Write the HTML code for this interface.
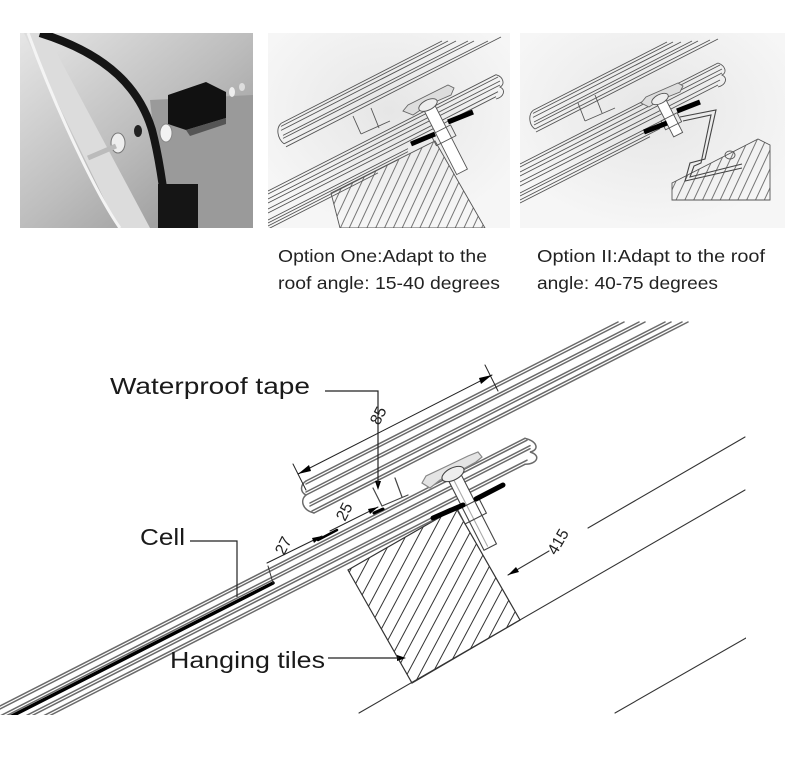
<!DOCTYPE html>
<html><head><meta charset="utf-8">
<style>
html,body{margin:0;padding:0;background:#fff;}
svg{display:block;}
</style></head>
<body>
<svg width="800" height="758" viewBox="0 0 800 758" xmlns="http://www.w3.org/2000/svg" font-family="Liberation Sans, sans-serif">
<defs>
  <pattern id="hatch" patternUnits="userSpaceOnUse" width="11" height="11" patternTransform="rotate(28)">
    <line x1="5" y1="0" x2="5" y2="11" stroke="#333" stroke-width="1"/>
  </pattern>
  <pattern id="hatch2" patternUnits="userSpaceOnUse" width="8" height="8" patternTransform="rotate(25)">
    <line x1="4" y1="0" x2="4" y2="8" stroke="#555" stroke-width="0.8"/>
  </pattern>
  <linearGradient id="p1bg" x1="0" y1="0" x2="1" y2="1">
    <stop offset="0" stop-color="#e6e6e6"/>
    <stop offset="0.5" stop-color="#bdbdbd"/>
    <stop offset="1" stop-color="#8d8d8d"/>
  </linearGradient>
  <radialGradient id="marble" cx="0.5" cy="0.4" r="0.6">
    <stop offset="0" stop-color="#e6e6e6"/>
    <stop offset="1" stop-color="#f6f6f6"/>
  </radialGradient>
  <clipPath id="mainclip"><rect x="0" y="321" width="746" height="394"/></clipPath>
  <clipPath id="p2clip"><rect x="0" y="0" width="242" height="195"/></clipPath>
  <clipPath id="p3clip"><rect x="0" y="0" width="265" height="195"/></clipPath>
  <clipPath id="p1clip"><rect x="20" y="33" width="233" height="195"/></clipPath>
</defs>

<!-- Panel 1 (photo) -->
<g clip-path="url(#p1clip)">
  <rect x="20" y="33" width="233" height="195" fill="url(#p1bg)"/>
  <polygon points="150,100 253,95 253,228 165,228" fill="#9a9a9a"/>
  <polygon points="24,33 46,33 150,228 118,228" fill="#dcdcdc"/>
  <path d="M28,33 C60,120 100,200 120,228" stroke="#f4f4f4" stroke-width="3" fill="none"/>
  <path d="M40,33 C110,55 140,90 152,130 C160,160 165,200 168,228" stroke="#151515" stroke-width="8" fill="none"/>
  <polygon points="168,95 206,82 226,92 226,118 186,130 168,124" fill="#111"/>
  <polygon points="186,130 226,118 226,124 190,136" fill="#555"/>
  <rect x="158" y="184" width="40" height="44" fill="#151515"/>
  <ellipse cx="118" cy="143" rx="7" ry="10" fill="#eee" stroke="#777"/>
  <ellipse cx="138" cy="131" rx="4" ry="6" fill="#222"/>
  <ellipse cx="166" cy="133" rx="6" ry="9" fill="#f2f2f2" stroke="#888"/>
  <line x1="88" y1="158" x2="116" y2="146" stroke="#bbb" stroke-width="5"/>
  <ellipse cx="232" cy="92" rx="3" ry="5" fill="#eee"/>
  <ellipse cx="242" cy="87" rx="3" ry="4" fill="#ddd"/>
</g>

<!-- Panel 2 -->
<g transform="translate(268,33)">
  <rect x="0" y="0" width="242" height="195" fill="url(#marble)"/>
  <g clip-path="url(#p2clip)" stroke="#555" stroke-width="0.9" fill="none">
    <line x1="13" y1="90.4" x2="174" y2="8"/>
    <line x1="13" y1="93.4" x2="180" y2="8"/>
    <line x1="13" y1="97.4" x2="188" y2="8"/>
    <line x1="15" y1="102.4" x2="200" y2="8"/>
    <line x1="15" y1="105.4" x2="206" y2="8"/>
    <line x1="16" y1="110.8" x2="220" y2="8"/>
    <line x1="18" y1="113.8" x2="233" y2="4"/>
    <path d="M13,90.4 C8,95 9,105 16,110.8"/>
    <line x1="0" y1="158" x2="228" y2="41.7"/>
    <line x1="0" y1="161" x2="230" y2="44"/>
    <line x1="0" y1="166" x2="232" y2="48"/>
    <line x1="0" y1="170" x2="232" y2="52"/>
    <line x1="0" y1="176" x2="230" y2="58.7"/>
    <line x1="0" y1="180" x2="228" y2="63.7"/>
    <path d="M228,41.7 C236,44 237,52 232,54 C238,57 236,64 228,66"/>
    <line x1="0" y1="187" x2="140" y2="115.6"/>
    <line x1="0" y1="190" x2="140" y2="118.6"/>
    <line x1="0" y1="193" x2="130" y2="126.7"/>
    <line x1="0" y1="196" x2="110" y2="139.9"/>
    <polygon points="63,160 167,108 217,195 72,195" fill="url(#hatch2)" stroke="#555"/>
    <line x1="85" y1="83" x2="93" y2="101"/>
    <line x1="103" y1="75" x2="111" y2="95"/>
    <line x1="93" y1="101" x2="122" y2="88"/>
    <polygon points="135,78 140,72 180,52 186,55 183,62 160,72 145,82" fill="#ddd" stroke="#666"/>
    <g transform="translate(160,72) rotate(-27)">
      <rect x="-6" y="0" width="12" height="75" fill="#fff" stroke="#555"/>
      <ellipse cx="0" cy="0" rx="10" ry="5" fill="#eee" stroke="#555"/>
      <rect x="-11" y="28" width="22" height="12" fill="none" stroke="#555"/>
    </g>
  </g>
  <line x1="143" y1="111" x2="167" y2="101" stroke="#000" stroke-width="5"/>
  <line x1="180" y1="89" x2="205" y2="79" stroke="#000" stroke-width="5"/>
</g>

<!-- Panel 3 -->
<g transform="translate(520,33)">
  <rect x="0" y="0" width="265" height="195" fill="url(#marble)"/>
  <g clip-path="url(#p3clip)" stroke="#555" stroke-width="0.9" fill="none">
    <line x1="13" y1="77.4" x2="147" y2="9"/>
    <line x1="13" y1="80.4" x2="153" y2="9"/>
    <line x1="13" y1="84.4" x2="161" y2="9"/>
    <line x1="14" y1="89" x2="172" y2="8"/>
    <line x1="14" y1="92" x2="178" y2="8"/>
    <line x1="15" y1="96" x2="190" y2="7"/>
    <line x1="16" y1="99" x2="198" y2="6"/>
    <path d="M13,77.4 C8,82 9,92 15,96"/>
    <line x1="0" y1="131" x2="198" y2="30"/>
    <line x1="0" y1="134" x2="200" y2="32"/>
    <line x1="0" y1="139" x2="202" y2="36"/>
    <line x1="0" y1="143" x2="202" y2="40"/>
    <line x1="0" y1="149" x2="200" y2="47"/>
    <line x1="0" y1="153" x2="198" y2="52"/>
    <path d="M198,30 C206,33 207,40 202,42 C208,45 206,52 198,54"/>
    <line x1="0" y1="160" x2="150" y2="83.5"/>
    <line x1="0" y1="163" x2="150" y2="86.5"/>
    <line x1="0" y1="167" x2="140" y2="95.6"/>
    <line x1="0" y1="170" x2="130" y2="103.7"/>
    <polygon points="152,150 238,106 250,112 250,167 152,167" fill="url(#hatch2)" stroke="#555"/>
    <line x1="58" y1="70" x2="65" y2="88"/>
    <line x1="75" y1="62" x2="82" y2="80"/>
    <line x1="65" y1="88" x2="95" y2="75"/>
    <polygon points="121,70 126,64 158,50 163,53 160,59 140,67 129,74" fill="#ddd" stroke="#666"/>
    <g transform="translate(140,66) rotate(-27)">
      <rect x="-5" y="0" width="10" height="40" fill="#fff" stroke="#555"/>
      <ellipse cx="0" cy="0" rx="9" ry="4.5" fill="#eee" stroke="#555"/>
      <rect x="-9" y="20" width="18" height="10" fill="none" stroke="#555"/>
    </g>
    <polyline points="160,84 196,77 185,126 170,130 165,148 222,135" stroke="#444" stroke-width="1.1"/>
    <polyline points="163,88 191,82 181,130 174,133 170,144 222,131" stroke="#444" stroke-width="1.1"/>
    <ellipse cx="210" cy="122" rx="5" ry="4" stroke="#555"/>
  </g>
  <line x1="124" y1="99" x2="147" y2="90" stroke="#000" stroke-width="5"/>
  <line x1="157" y1="78" x2="180" y2="69" stroke="#000" stroke-width="5"/>
</g>

<!-- Captions -->
<g font-size="17.5" fill="#222">
  <text x="278" y="262" textLength="209" lengthAdjust="spacingAndGlyphs">Option One:Adapt to the</text>
  <text x="278" y="289" textLength="222" lengthAdjust="spacingAndGlyphs">roof angle: 15-40 degrees</text>
  <text x="537" y="262" textLength="228" lengthAdjust="spacingAndGlyphs">Option II:Adapt to the roof</text>
  <text x="537" y="289" textLength="181" lengthAdjust="spacingAndGlyphs">angle: 40-75 degrees</text>
</g>

<!-- Main diagram -->
<g clip-path="url(#mainclip)" fill="none" stroke-linecap="round">
  <polygon points="348,570 456,508 520,620 412,683" fill="url(#hatch)" stroke="#333" stroke-width="1.2"/>
  <g stroke="#6a6a6a" stroke-width="1.5">
    <line x1="0" y1="706" x2="525" y2="438.3"/>
    <line x1="0" y1="709" x2="527" y2="440.2"/>
    <line x1="0" y1="716" x2="530" y2="445.7"/>
    <line x1="0" y1="719" x2="530" y2="448.7"/>
    <line x1="0" y1="729" x2="527" y2="460.2"/>
    <line x1="0" y1="732" x2="525" y2="464.3"/>
    <path d="M525,438.3 C537,441 540,450 530,452 C541,455 538,464 525,464.3"/>
    <line x1="0" y1="738" x2="450" y2="508.5"/>
    <line x1="0" y1="741" x2="440" y2="516.6"/>
    <line x1="306" y1="481" x2="618" y2="322"/>
    <line x1="306" y1="484" x2="624" y2="322"/>
    <line x1="306" y1="492" x2="639" y2="322"/>
    <line x1="306" y1="495" x2="645" y2="322"/>
    <line x1="310" y1="503" x2="665" y2="322"/>
    <line x1="310" y1="506" x2="671" y2="322"/>
    <line x1="312" y1="511" x2="682" y2="322"/>
    <line x1="314" y1="513" x2="688" y2="322"/>
    <path d="M306,481 C300,485 300,492 306,495 C300,500 302,510 314,513"/>
  </g>
  <g stroke="#333" stroke-width="1.1">
    <line x1="359" y1="713" x2="745" y2="490"/>
    <line x1="508" y1="575" x2="549" y2="551"/>
    <line x1="588" y1="528" x2="745" y2="437"/>
    <line x1="615" y1="713" x2="746" y2="638"/>
  </g>
  <line x1="5" y1="719.5" x2="273" y2="583" stroke="#000" stroke-width="3.5"/>
  <line x1="273" y1="583" x2="268" y2="566" stroke="#333" stroke-width="1"/>
  <g stroke="#444" stroke-width="1.2">
    <line x1="373" y1="488" x2="382" y2="506"/>
    <line x1="395" y1="478" x2="402" y2="497"/>
    <line x1="382" y1="506" x2="408" y2="495"/>
  </g>
  <line x1="374" y1="513" x2="383" y2="509" stroke="#000" stroke-width="3"/>
  <polygon points="422,483 426,476 445,467 468,456 478,452 482,457 476,462 465,468 440,480 430,488" fill="#e4e4e4" stroke="#888" stroke-width="1.2"/>
  <g transform="translate(453,474) rotate(-27)" stroke="#444" stroke-width="1.1">
    <rect x="-7" y="0" width="14" height="82" fill="#fff"/>
    <line x1="-2" y1="4" x2="-2" y2="80" stroke="#aaa"/>
    <ellipse cx="0" cy="0" rx="12" ry="6" fill="#eee"/>
    <rect x="-12" y="34" width="24" height="16" fill="none"/>
  </g>
  <line x1="433" y1="518" x2="463" y2="505" stroke="#000" stroke-width="5"/>
  <line x1="476" y1="499" x2="503" y2="485" stroke="#000" stroke-width="5"/>
  <g stroke="#222" stroke-width="1">
    <line x1="293" y1="464" x2="306" y2="490"/>
    <line x1="485" y1="365" x2="498" y2="391"/>
    <line x1="298" y1="474" x2="492" y2="375"/>
    <line x1="330" y1="531" x2="378" y2="507"/>
    <line x1="267" y1="563" x2="322" y2="536"/>
  </g>
  <g fill="#000">
    <polygon points="298,474 309,465 311,471"/>
    <polygon points="492,375 481,384 479,378"/>
    <polygon points="378,507 368,509 370,514"/>
    <polygon points="322,536 312,538 314,543"/>
    <polygon points="508,575 516,567 519,572"/>
    <polygon points="406,658 397,655 397,661"/>
    <polygon points="378,490 375,481 381,481"/>
  </g>
  <line x1="318" y1="540" x2="337" y2="530" stroke="#000" stroke-width="2.5"/>
</g>

<g stroke="#222" stroke-width="1.2" fill="none">
  <path d="M325,391 H378 V484"/>
  <path d="M190,541 H237 V597"/>
  <path d="M328,658 H399"/>
</g>

<g font-size="16" fill="#222">
  <text x="0" y="0" transform="translate(379,426) rotate(-63)">85</text>
  <text x="0" y="0" transform="translate(345,522) rotate(-63)">25</text>
  <text x="0" y="0" transform="translate(284,556) rotate(-63)">27</text>
  <text x="0" y="0" transform="translate(556,556) rotate(-60)">415</text>
</g>

<g fill="#1a1a1a" font-size="23">
  <text x="110" y="394" textLength="200" lengthAdjust="spacingAndGlyphs">Waterproof tape</text>
  <text x="140" y="545" textLength="45" lengthAdjust="spacingAndGlyphs">Cell</text>
  <text x="170" y="668" textLength="155" lengthAdjust="spacingAndGlyphs">Hanging tiles</text>
</g>
</svg>
</body></html>
